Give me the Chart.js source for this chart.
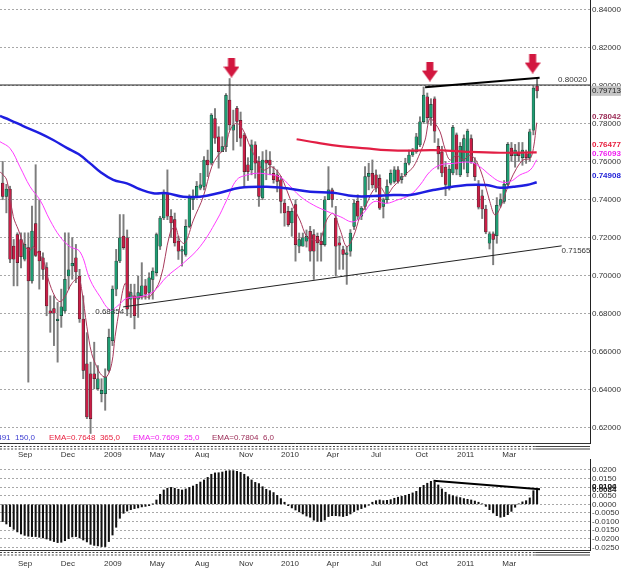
<!DOCTYPE html>
<html><head><meta charset="utf-8">
<script src="https://cdn.jsdelivr.net/npm/chart.js@4"></script>
<style>
html,body{margin:0;padding:0;background:#fff;}
#wrap{position:relative;width:625px;height:570px;overflow:hidden;background:#fff}
#c1{position:absolute;left:0;top:0}
#c2{position:absolute;left:0;top:458px}
</style></head><body>
<div id="wrap">
<canvas id="c1" width="625" height="458"></canvas>
<canvas id="c2" width="625" height="112"></canvas>
</div>
<script>
// ---------------- DATA ----------------
const xTickPos    = [6.1, 17.8, 30.1, 42.2, 54.5, 66.5, 78.5, 90.2, 102.0, 114.5, 126.5, 138.4];
const xTickLabels = ['Sep','Dec','2009','May','Aug','Nov','2010','Apr','Jul','Oct','2011','Mar'];
const yTicks   = [0.84,0.82,0.80,0.78,0.76,0.74,0.72,0.70,0.68,0.66,0.64,0.62];
const oscTicks = [0.02,0.015,0.01,0.005,0,-0.005,-0.01,-0.015,-0.02,-0.025];

const open = [
.7487,.7417,.7455,.7155,.7216,.7190,.7086,.7147,.6972,.7274,
.7129,.7094,.7042,.6815,.6827,.6763,.6789,.6815,.6998,.7051,
.7094,.6998,.6772,.6536,.6484,.6484,.6405,.6379,.6379,.6501,
.6658,.6929,.7077,.7208,.7199,.6876,.6894,.6876,.6894,.6946,
.6911,.6980,.7015,.7155,.7303,.7434,.7312,.7294,.7181,.7129,
.7111,.7259,.7399,.7416,.7460,.7469,.7608,.7591,.7826,.7730,
.7652,.7678,.7923,.7765,.7880,.7817,.7739,.7582,.7556,.7687,
.7599,.7408,.7608,.7608,.7538,.7530,.7504,.7381,.7338,.7277,
.7373,.7155,.7155,.7181,.7233,.7216,.7207,.7181,.7163,.7399,
.7451,.7303,.7172,.7137,.7111,.7129,.7259,.7390,.7312,.7364,
.7521,.7538,.7530,.7512,.7364,.7399,.7486,.7495,.7556,.7504,
.7530,.7591,.7634,.7652,.7687,.7809,.7940,.7830,.7930,.7680,
.7650,.7570,.7460,.7540,.7740,.7530,.7600,.7540,.7720,.7590,
.7480,.7420,.7350,.7170,.7220,.7210,.7370,.7390,.7480,.7670,
.7630,.7650,.7620,.7640,.7620,.7765,.7997];
const high = [
.7600,.7480,.7470,.7190,.7225,.7225,.7225,.7225,.7365,.7583,
.7399,.7120,.7068,.6894,.6894,.6859,.6929,.7225,.7225,.7200,
.7164,.7033,.6894,.6700,.6545,.6650,.6527,.6458,.6510,.6719,
.6946,.7138,.7321,.7321,.7240,.6955,.6955,.6998,.7068,.6980,
.7015,.7041,.7224,.7312,.7451,.7556,.7347,.7329,.7207,.7155,
.7294,.7425,.7451,.7495,.7538,.7626,.7660,.7852,.7878,.7783,
.7730,.7957,.8036,.7870,.7890,.7860,.7748,.7620,.7713,.7704,
.7626,.7652,.7660,.7652,.7573,.7556,.7521,.7400,.7364,.7355,
.7399,.7224,.7224,.7240,.7259,.7242,.7224,.7224,.7416,.7573,
.7460,.7364,.7207,.7155,.7155,.7242,.7399,.7425,.7364,.7573,
.7591,.7608,.7556,.7530,.7408,.7504,.7556,.7573,.7573,.7538,
.7617,.7660,.7669,.7748,.7835,.7992,.7960,.7930,.7940,.7720,
.7680,.7600,.7580,.7790,.7750,.7700,.7740,.7770,.7740,.7620,
.7500,.7450,.7370,.7230,.7230,.7410,.7430,.7500,.7700,.7700,
.7690,.7700,.7700,.7660,.7770,.7995,.8040];
const low = [
.7399,.7330,.7068,.6946,.6946,.7040,.7077,.6440,.6960,.7100,
.6929,.6980,.6789,.6702,.6632,.6545,.6728,.6806,.6929,.6981,
.6963,.6754,.6458,.6248,.6170,.6405,.6397,.6336,.6292,.6493,
.6632,.6894,.7068,.7138,.6789,.6780,.6720,.6780,.6876,.6876,
.6876,.6876,.6998,.7137,.7294,.7294,.7200,.7155,.7085,.7050,
.7102,.7251,.7347,.7408,.7451,.7451,.7520,.7582,.7695,.7565,
.7652,.7652,.7765,.7660,.7704,.7680,.7469,.7500,.7530,.7512,
.7364,.7399,.7504,.7530,.7486,.7440,.7329,.7260,.7259,.7207,
.7076,.7120,.7155,.7150,.7076,.6980,.7076,.7076,.7155,.7399,
.7360,.6998,.7033,.7033,.6954,.7102,.7242,.7294,.7294,.7347,
.7451,.7460,.7440,.7347,.7303,.7381,.7477,.7486,.7486,.7486,
.7521,.7582,.7626,.7643,.7678,.7800,.7800,.7790,.7700,.7560,
.7520,.7420,.7450,.7530,.7530,.7520,.7560,.7520,.7590,.7500,
.7350,.7300,.7220,.7140,.7057,.7170,.7360,.7380,.7470,.7600,
.7570,.7600,.7580,.7590,.7600,.7740,.7934];
const close = [
.7417,.7455,.7086,.7086,.7068,.7100,.7164,.6972,.7234,.7106,
.7077,.7033,.6841,.6803,.6803,.6772,.6836,.6981,.7030,.7065,
.7019,.6772,.6501,.6257,.6248,.6458,.6458,.6397,.6466,.6676,
.6929,.7077,.7199,.7147,.6824,.6911,.6789,.6911,.6946,.6902,
.6989,.7024,.7216,.7303,.7434,.7312,.7277,.7172,.7129,.7137,
.7259,.7408,.7416,.7469,.7477,.7608,.7582,.7844,.7722,.7652,
.7678,.7948,.7792,.7791,.7810,.7722,.7547,.7547,.7687,.7591,
.7416,.7608,.7591,.7582,.7504,.7495,.7390,.7329,.7268,.7338,
.7163,.7190,.7198,.7207,.7129,.7129,.7172,.7163,.7399,.7451,
.7400,.7155,.7160,.7111,.7120,.7224,.7381,.7312,.7355,.7521,
.7538,.7477,.7460,.7355,.7399,.7469,.7538,.7556,.7495,.7521,
.7591,.7634,.7660,.7730,.7809,.7949,.7830,.7900,.7760,.7640,
.7540,.7480,.7560,.7780,.7560,.7680,.7720,.7760,.7600,.7520,
.7360,.7350,.7230,.7220,.7190,.7370,.7400,.7480,.7690,.7630,
.7660,.7630,.7660,.7620,.7756,.7986,.79713];

const osc = [
-0.0100,-0.0114,-0.0129,-0.0145,-0.0160,-0.0172,-0.0180,-0.0185,-0.0187,-0.0187,
-0.0191,-0.0195,-0.0201,-0.0209,-0.0216,-0.0222,-0.0220,-0.0211,-0.0199,-0.0189,
-0.0187,-0.0195,-0.0207,-0.0218,-0.0232,-0.0238,-0.0241,-0.0245,-0.0245,-0.0216,
-0.0178,-0.0133,-0.0081,-0.0052,-0.0039,-0.0031,-0.0025,-0.0021,-0.0015,-0.0012,
-0.0008,0.0001,0.0025,0.0058,0.0083,0.0093,0.0098,0.0093,0.0087,0.0083,
0.0089,0.0098,0.0106,0.0116,0.0129,0.0141,0.0156,0.0174,0.0182,0.0183,
0.0187,0.0193,0.0195,0.0195,0.0191,0.0185,0.0174,0.0160,0.0141,0.0127,
0.0120,0.0102,0.0087,0.0079,0.0068,0.0052,0.0033,0.0012,-0.0008,-0.0021,
-0.0033,-0.0044,-0.0056,-0.0068,-0.0075,-0.0092,-0.0100,-0.0100,-0.0091,-0.0071,
-0.0066,-0.0066,-0.0068,-0.0071,-0.0066,-0.0056,-0.0042,-0.0033,-0.0025,-0.0017,
-0.0006,0.0012,0.0021,0.0025,0.0021,0.0023,0.0027,0.0035,0.0041,0.0046,
0.0052,0.0058,0.0066,0.0075,0.0098,0.0110,0.0122,0.0133,0.0129,0.0112,
0.0089,0.0070,0.0056,0.0050,0.0044,0.0039,0.0033,0.0029,0.0025,0.0019,
0.0012,0.0002,-0.0012,-0.0031,-0.0050,-0.0066,-0.0075,-0.0071,-0.0060,-0.0041,
-0.0017,0.0002,0.0014,0.0021,0.0037,0.0079,0.0084];

// moving averages (bar index, price)
const ema150X = [-0.74,2.0,5.6,10.2,13.8,17.5,20.7,23.9,26.6,30.2,33.9,37.5,41.1,44.8,49.3,53.9,59.4,64.8,72.1,77.6,84.0,90.3,95.8,101.3,106.7,111.3,117.6,126.8,132.2,135.9,139.5,143.2,145.9];
const ema150Y = [.7839,.7818,.7786,.7748,.7713,.7672,.7639,.7590,.7546,.7503,.7485,.7454,.7433,.7433,.7415,.7415,.7436,.7462,.7467,.7459,.7441,.7436,.7418,.7418,.7424,.7424,.7450,.7476,.7476,.7462,.7467,.7476,.74908];
const ema365X = [80.3,85.8,92.2,99.4,104.9,111.3,117.6,126.8,135.9,145.9];
const ema365Y = [.7717,.7699,.7681,.7669,.7660,.7657,.7660,.7651,.7646,.76477];
const ema25X = [-0.74,2.0,4.7,7.5,10.2,12.9,15.7,18.4,21.1,23.9,26.6,29.3,31.1,33.9,37.5,41.1,44.8,49.3,53.9,58.5,61.2,63.9,66.7,69.4,72.1,75.8,78.5,81.2,84.9,88.5,92.2,95.8,98.5,101.3,104.9,107.7,111.3,114.0,116.7,119.5,123.1,127.7,130.4,133.1,135.9,138.6,141.3,144.1,145.9];
const ema25Y = [.7704,.7669,.7572,.7467,.7397,.7292,.7204,.7152,.7126,.6977,.6889,.6819,.6836,.6881,.6889,.6915,.6994,.7065,.7152,.7292,.7397,.7503,.7529,.7538,.7534,.7518,.7471,.7418,.7371,.7339,.7310,.7283,.7327,.7388,.7380,.7397,.7424,.7476,.7546,.7581,.7590,.7596,.7572,.7529,.7494,.7494,.7529,.7555,.76093];
const ema6X = [-0.7,1.1,2.9,4.3,6.1,7.5,8.4,9.7,11.1,12.5,14.3,15.7,17.0,18.9,20.7,21.6,23.0,24.3,25.7,27.0,28.4,29.8,30.7,32.0,33.4,34.3,35.7,38.9,40.2,43.0,45.7,47.1,48.4,49.8,52.1,54.8,57.1,58.9,60.7,62.1,63.9,65.7,67.6,69.4,71.2,73.5,75.8,77.6,79.4,81.2,83.1,84.9,86.7,88.5,90.3,92.2,94.0,95.8,97.6,99.5,101.3,103.1,104.9,106.7,108.6,110.4,112.2,114.0,115.4,116.7,118.1,119.5,120.8,122.2,124.0,125.8,127.7,129.5,131.3,133.1,134.5,135.9,137.2,138.6,140.4,142.2,144.1,145.0,145.9];
const ema6Y = [.7546,.7503,.7310,.7240,.7152,.7134,.7152,.7117,.7082,.6977,.6889,.6863,.6889,.6959,.6986,.6924,.6731,.6591,.6521,.6477,.6468,.6539,.6679,.6836,.6959,.6924,.6889,.6889,.6889,.6977,.7222,.7257,.7187,.7170,.7292,.7415,.7572,.7634,.7669,.7765,.7801,.7765,.7678,.7608,.7555,.7572,.7529,.7450,.7362,.7292,.7204,.7187,.7187,.7292,.7327,.7240,.7152,.7204,.7310,.7380,.7450,.7467,.7424,.7467,.7503,.7538,.7572,.7643,.7713,.7827,.7801,.7756,.7669,.7608,.7634,.7608,.7634,.7599,.7511,.7388,.7318,.7354,.7424,.7494,.7564,.7608,.7617,.7669,.78042];
const emaPeriods = [150, 365, 25, 6];
const emaLegendVals = [0.7491, 0.7648, 0.7609, 0.7804];

// drawn annotations (bar index, price)
const levelPrice = 0.80020;
const supportX = [32.9, 152.7], supportY = [0.68354, 0.71565];
const resistX = [115.4, 146.7], resistY = [0.7990, 0.8040];
const arrowX = [62.5, 116.7, 144.8], arrowY = [0.8094, 0.8073, 0.8115];
const oscTrendX = [117.7, 146.8], oscTrendY = [0.0137, 0.0087];
const oscMarks = [0.0104, 0.0084];

// ---------------- STYLE / HELPERS ----------------
const FONT = '"Liberation Sans", Arial, sans-serif';
Chart.defaults.font.family = FONT;
Chart.defaults.font.size = 8;
const XMIN = -0.74, XMAX = 160.46;
const UP = '#1f9c72', DOWN = '#c81e46';
const pts = (xs, ys) => xs.map((x, k) => ({x, y: ys[k]}));
const idx = close.map((_, k) => k);

function arrowImg() {
  const c = document.createElement('canvas'); c.width = 16; c.height = 20;
  const g = c.getContext('2d'); g.fillStyle = '#d2173f';
  g.fillRect(4.5, 0, 7, 10);
  g.beginPath(); g.moveTo(0, 9); g.lineTo(16, 9); g.lineTo(8, 20); g.closePath(); g.fill();
  return c;
}

function dashRows(ctx, a, xSplit, ys) {
  ctx.save(); ctx.strokeStyle = '#444'; ctx.lineWidth = 1;
  ys.forEach(y => {
    ctx.setLineDash([2, 1.7]);
    ctx.beginPath(); ctx.moveTo(a.left, y); ctx.lineTo(xSplit, y); ctx.stroke();
    ctx.setLineDash([]);
    ctx.beginPath(); ctx.moveTo(xSplit, y); ctx.lineTo(a.right, y); ctx.stroke();
  });
  ctx.restore();
}

const fixPad = s => { s.paddingTop = 0; s.paddingBottom = 0; s.paddingLeft = 0; s.paddingRight = 0; };

// ---------------- MAIN CHART ----------------
const deco1 = {
  id: 'deco1',
  afterDraw(chart) {
    const ctx = chart.ctx, a = chart.chartArea, xs = chart.scales.x, ys = chart.scales.y;
    dashRows(ctx, a, xs.getPixelForValue(close.length - 1.5), [a.bottom + 3.5, a.bottom + 6]);
    ctx.save();
    ctx.font = '8px ' + FONT; ctx.textBaseline = 'middle';
    ctx.fillStyle = '#333';
    ctx.textAlign = 'right';
    ctx.fillText(levelPrice.toFixed(5), a.right - 3, ys.getPixelForValue(levelPrice) - 5);
    ctx.fillText(supportY[0].toFixed(5), xs.getPixelForValue(supportX[0]) + 1, ys.getPixelForValue(supportY[0]) + 5);
    ctx.textAlign = 'left';
    ctx.fillText(supportY[1].toFixed(5), xs.getPixelForValue(supportX[1]), ys.getPixelForValue(supportY[1]) + 5);
    const last = close[close.length - 1];
    const yl = ys.getPixelForValue(last);
    ctx.fillStyle = '#c4c4c4'; ctx.fillRect(a.right + 1, yl - 5, 30, 10);
    ctx.fillStyle = '#222'; ctx.fillText(last.toFixed(5), a.right + 2, yl);
    const emaLast = [ema150Y[ema150Y.length-1], ema365Y[ema365Y.length-1], ema25Y[ema25Y.length-1], ema6Y[ema6Y.length-1]];
    const cols = ['#2424d8', '#e8203f', '#f020f0', '#9a2a55'];
    const offs = [-6.5, -8, -6, -6];
    ctx.font = 'bold 8px ' + FONT;
    emaLast.forEach((v, k) => { ctx.fillStyle = cols[k]; ctx.fillText(v.toFixed(5), a.right + 2, ys.getPixelForValue(v) + offs[k]); });
    ctx.font = '8px ' + FONT;
    const legY = a.bottom - 5.5;
    const legCols = ['#3a3ad0', '#e8203f', '#f020f0', '#9a2a55'];
    const txt = k => 'EMA=' + emaLegendVals[k].toFixed(4) + '  ' + emaPeriods[k] + ',0';
    ctx.fillStyle = legCols[0]; ctx.textAlign = 'right'; ctx.fillText(txt(0), 35, legY);
    ctx.textAlign = 'left';
    [[1, 49], [2, 133], [3, 212]].forEach(([k, x]) => { ctx.fillStyle = legCols[k]; ctx.fillText(txt(k), x, legY); });
    ctx.restore();
  }
};

new Chart(document.getElementById('c1'), {
  type: 'bar',
  data: {
    datasets: [
      { type: 'scatter', data: pts(arrowX, arrowY), pointStyle: arrowImg(), pointRadius: 10, order: 0 },
      { type: 'line', data: pts(resistX, resistY), borderColor: '#000', borderWidth: 2, pointRadius: 0, order: 1 },
      { type: 'line', data: pts(supportX, supportY), borderColor: '#222', borderWidth: 1, pointRadius: 0, order: 1 },
      { type: 'line', data: [{x: XMIN, y: levelPrice}, {x: XMAX, y: levelPrice}], borderColor: '#222', borderWidth: 1, pointRadius: 0, order: 1 },
      { type: 'line', data: pts(ema150X, ema150Y), borderColor: '#1e1ee0', borderWidth: 2.5, pointRadius: 0, tension: 0.4, order: 2 },
      { type: 'line', data: pts(ema365X, ema365Y), borderColor: '#e21e44', borderWidth: 2.2, pointRadius: 0, tension: 0.4, order: 2 },
      { type: 'line', data: pts(ema25X, ema25Y), borderColor: '#ff3cff', borderWidth: 1, pointRadius: 0, tension: 0.4, order: 3 },
      { type: 'line', data: pts(ema6X, ema6Y), borderColor: '#a83a5c', borderWidth: 1, pointRadius: 0, tension: 0.35, order: 3 },
      { type: 'bar', data: idx.map(k => ({x: k, y: [open[k], close[k]]})), grouped: false, barThickness: 2.8, minBarLength: 1,
        backgroundColor: idx.map(k => close[k] >= open[k] ? UP : DOWN), borderColor: '#222', borderWidth: 0.5, borderSkipped: false, order: 5 },
      { type: 'bar', data: idx.map(k => ({x: k, y: [low[k], high[k]]})), grouped: false, barThickness: 1.3,
        backgroundColor: '#7d7d7d', order: 6 }
    ]
  },
  options: {
    responsive: false, animation: false, devicePixelRatio: 1,
    layout: { padding: 0, autoPadding: false },
    plugins: { legend: { display: false }, tooltip: { enabled: false } },
    scales: {
      x: { type: 'linear', min: XMIN, max: XMAX, offset: false,
        grid: { display: false, drawTicks: false },
        border: { display: true, color: '#333' },
        ticks: { autoSkip: false, maxRotation: 0, padding: 7, color: '#333', font: { size: 8 },
          callback: (v, i) => xTickLabels[i] },
        afterBuildTicks: s => { s.ticks = xTickPos.map(v => ({value: v})); },
        afterFit: s => { s.height = 15; fixPad(s); } },
      y: { type: 'linear', position: 'right', min: 0.6120, max: 0.8449,
        grid: { color: '#a8a8a8', lineWidth: 1, drawTicks: false },
        border: { display: true, color: '#222', dash: [2, 2] },
        ticks: { autoSkip: false, padding: 2, color: '#333', font: { size: 8 }, callback: v => v.toFixed(5) },
        afterBuildTicks: s => { s.ticks = yTicks.map(v => ({value: v})); },
        afterFit: s => { s.width = 35; fixPad(s); } }
    }
  },
  plugins: [deco1]
});

// ---------------- OSCILLATOR ----------------
const deco2 = {
  id: 'deco2',
  afterDraw(chart) {
    const ctx = chart.ctx, a = chart.chartArea, xs = chart.scales.x, ys = chart.scales.y;
    dashRows(ctx, a, xs.getPixelForValue(close.length - 1.5), [a.bottom + 2.5, a.bottom + 5]);
    ctx.save();
    ctx.font = 'bold 8px ' + FONT; ctx.textBaseline = 'middle'; ctx.textAlign = 'left'; ctx.fillStyle = '#222';
    oscMarks.forEach(v => ctx.fillText(v.toFixed(4), a.right + 2, ys.getPixelForValue(v)));
    ctx.restore();
  }
};

new Chart(document.getElementById('c2'), {
  type: 'bar',
  data: {
    datasets: [
      { type: 'line', data: pts(oscTrendX, oscTrendY), borderColor: '#000', borderWidth: 2, pointRadius: 0, order: 0 },
      { type: 'bar', data: idx.map(k => ({x: k, y: osc[k]})), grouped: false, barThickness: 1.4,
        backgroundColor: '#111', order: 1 }
    ]
  },
  options: {
    responsive: false, animation: false, devicePixelRatio: 1,
    layout: { padding: { top: 1, left: 0, right: 0, bottom: 0 }, autoPadding: false },
    plugins: { legend: { display: false }, tooltip: { enabled: false } },
    scales: {
      x: { type: 'linear', min: XMIN, max: XMAX, offset: false,
        grid: { display: false, drawTicks: false },
        border: { display: true, color: '#333' },
        ticks: { autoSkip: false, maxRotation: 0, padding: 9, color: '#333', font: { size: 8 },
          callback: (v, i) => xTickLabels[i] },
        afterBuildTicks: s => { s.ticks = xTickPos.map(v => ({value: v})); },
        afterFit: s => { s.height = 20; fixPad(s); } },
      y: { type: 'linear', position: 'right', min: -0.02648, max: 0.02625,
        grid: { color: '#a8a8a8', lineWidth: 1, drawTicks: false },
        border: { display: true, color: '#222', dash: [2, 2] },
        ticks: { autoSkip: false, padding: 2, color: '#333', font: { size: 8 }, callback: v => v.toFixed(4) },
        afterBuildTicks: s => { s.ticks = oscTicks.map(v => ({value: v})); },
        afterFit: s => { s.width = 35; fixPad(s); } }
    }
  },
  plugins: [deco2]
});
</script>
</body></html>
